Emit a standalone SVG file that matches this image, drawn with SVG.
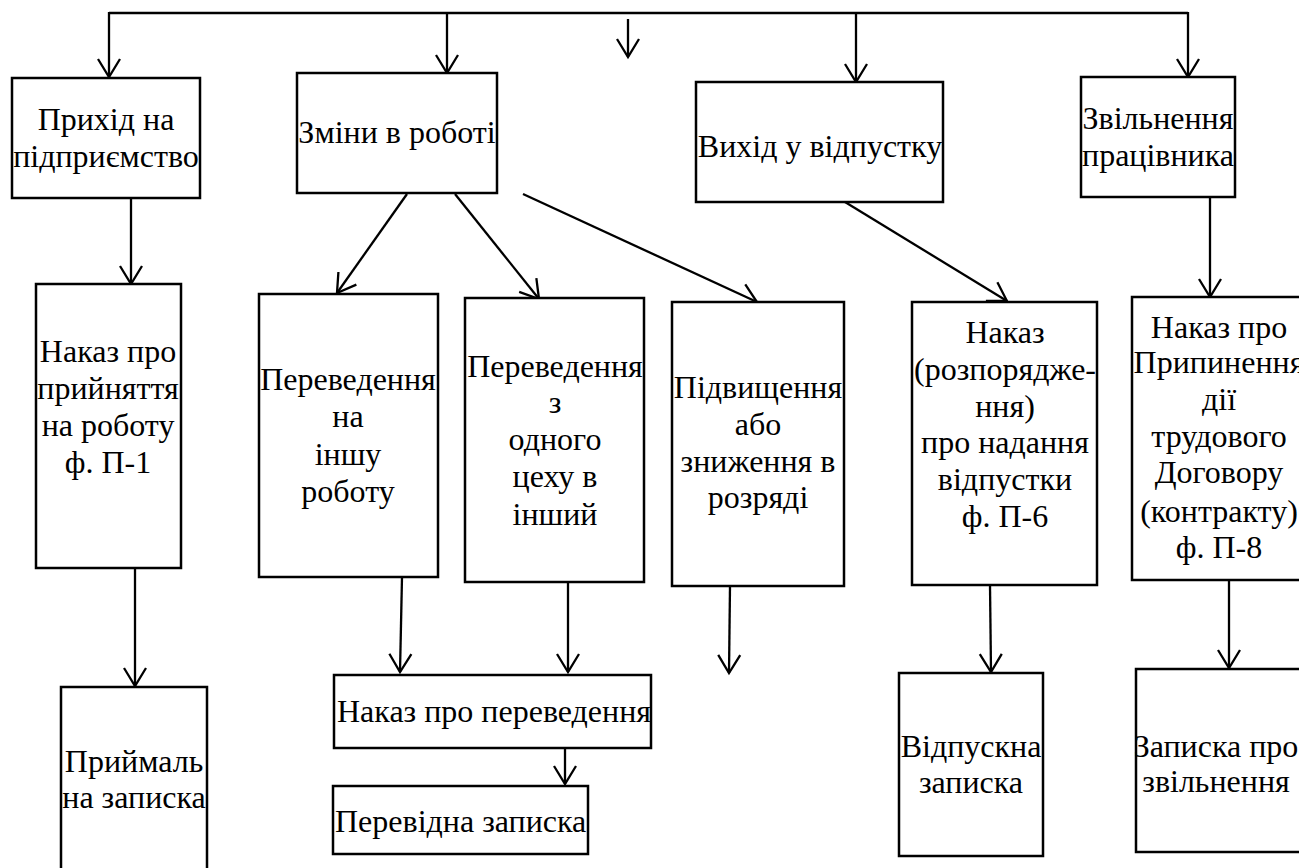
<svg xmlns="http://www.w3.org/2000/svg" width="1299" height="868" viewBox="0 0 1299 868">
<style>
.box{fill:#fff;stroke:#000;stroke-width:2.5}
.t{font-family:"Liberation Serif","Times New Roman",serif;font-size:32px;fill:#000;text-anchor:middle}
.ts{font-family:"Liberation Serif","Times New Roman",serif;font-size:32px;fill:#000;text-anchor:start}
.c{fill:none;stroke:#000;stroke-width:2.3}
</style>
<defs>
<marker id="ah" markerUnits="userSpaceOnUse" markerWidth="24" markerHeight="26" viewBox="-20 -13 22 26" refX="0" refY="0" orient="auto">
<path d="M-18,-11 L0,0 L-18,11" fill="none" stroke="#000" stroke-width="2.3"/>
</marker>
</defs>
<rect width="1299" height="868" fill="#fff"/>
<g id="connectors">
<line class="c" x1="109" y1="13" x2="1188" y2="13"/>
<line class="c" x1="109" y1="12" x2="109" y2="77" marker-end="url(#ah)"/>
<line class="c" x1="447" y1="12" x2="447" y2="73" marker-end="url(#ah)"/>
<line class="c" x1="856" y1="12" x2="856" y2="82" marker-end="url(#ah)"/>
<line class="c" x1="1188" y1="12" x2="1188" y2="77" marker-end="url(#ah)"/>
<line class="c" x1="628" y1="19" x2="628" y2="57" marker-end="url(#ah)"/>
<line class="c" x1="131" y1="198" x2="131" y2="284" marker-end="url(#ah)"/>
<line class="c" x1="135" y1="568" x2="135" y2="686" marker-end="url(#ah)"/>
<line class="c" x1="407" y1="194" x2="337" y2="293" marker-end="url(#ah)"/>
<line class="c" x1="455" y1="194" x2="539" y2="299" marker-end="url(#ah)"/>
<line class="c" x1="523" y1="194" x2="757" y2="302" marker-end="url(#ah)"/>
<line class="c" x1="402" y1="577" x2="400" y2="672" marker-end="url(#ah)"/>
<line class="c" x1="568" y1="582" x2="568" y2="672" marker-end="url(#ah)"/>
<line class="c" x1="730" y1="586" x2="729" y2="673" marker-end="url(#ah)"/>
<line class="c" x1="565" y1="748" x2="565" y2="784" marker-end="url(#ah)"/>
<line class="c" x1="845" y1="202" x2="1007" y2="301" marker-end="url(#ah)"/>
<line class="c" x1="990" y1="585" x2="991" y2="672" marker-end="url(#ah)"/>
<line class="c" x1="1210" y1="197" x2="1210" y2="297" marker-end="url(#ah)"/>
<line class="c" x1="1229" y1="580" x2="1229" y2="668" marker-end="url(#ah)"/>
</g>
<g id="n-prykhid">
<rect class="box" x="12" y="78" width="188" height="120"/>
<text class="t" x="106" y="130">Прихід на</text>
<text class="t" x="106" y="167">підприємство</text>
</g>
<g id="n-zminy">
<rect class="box" x="297" y="73" width="200" height="120"/>
<text class="t" x="397" y="143">Зміни в роботі</text>
</g>
<g id="n-vykhid">
<rect class="box" x="696" y="82" width="247" height="120"/>
<text class="t" x="820" y="157">Вихід у відпустку</text>
</g>
<g id="n-zvilnennia">
<rect class="box" x="1081" y="77" width="154" height="120"/>
<text class="t" x="1158" y="129">Звільнення</text>
<text class="t" x="1158" y="166">працівника</text>
</g>
<g id="n-nakaz-p1">
<rect class="box" x="36" y="284" width="145" height="284"/>
<text class="t" x="108" y="362">Наказ про</text>
<text class="t" x="108" y="399">прийняття</text>
<text class="t" x="108" y="436">на роботу</text>
<text class="t" x="108" y="473">ф. П-1</text>
</g>
<g id="n-perevedennia-na">
<rect class="box" x="259" y="294" width="179" height="283"/>
<text class="t" x="348" y="390">Переведення</text>
<text class="t" x="348" y="427">на</text>
<text class="t" x="348" y="465">іншу</text>
<text class="t" x="348" y="502">роботу</text>
</g>
<g id="n-perevedennia-z">
<rect class="box" x="465" y="298" width="179" height="284"/>
<text class="t" x="555" y="377">Переведення</text>
<text class="t" x="555" y="413">з</text>
<text class="t" x="555" y="450">одного</text>
<text class="t" x="555" y="487">цеху в</text>
<text class="t" x="555" y="525">інший</text>
</g>
<g id="n-pidvyshchennia">
<rect class="box" x="672" y="302" width="172" height="284"/>
<text class="t" x="758" y="398">Підвищення</text>
<text class="t" x="758" y="435">або</text>
<text class="t" x="758" y="472">зниження в</text>
<text class="t" x="758" y="508">розряді</text>
</g>
<g id="n-nakaz-p6">
<rect class="box" x="912" y="302" width="185" height="283"/>
<text class="t" x="1005" y="343">Наказ</text>
<text class="t" x="1005" y="380">(розпорядже-</text>
<text class="t" x="1005" y="417">ння)</text>
<text class="t" x="1005" y="453">про надання</text>
<text class="t" x="1005" y="490">відпустки</text>
<text class="t" x="1005" y="527">ф. П-6</text>
</g>
<g id="n-nakaz-p8">
<rect class="box" x="1132" y="297" width="180" height="283"/>
<text class="t" x="1219" y="338">Наказ про</text>
<text class="t" x="1219" y="373">Припинення</text>
<text class="t" x="1219" y="410">дії</text>
<text class="t" x="1219" y="447">трудового</text>
<text class="t" x="1219" y="483">Договору</text>
<text class="t" x="1219" y="522">(контракту)</text>
<text class="t" x="1219" y="558">ф. П-8</text>
</g>
<g id="n-pryimalna">
<rect class="box" x="61" y="687" width="146" height="200"/>
<text class="t" x="134" y="772">Приймаль</text>
<text class="t" x="134" y="808">на записка</text>
</g>
<g id="n-nakaz-perevedennia">
<rect class="box" x="334" y="675" width="317" height="73"/>
<text class="ts" x="337" y="722">Наказ про переведення</text>
</g>
<g id="n-perevidna">
<rect class="box" x="333" y="786" width="255" height="68"/>
<text class="ts" x="335" y="832">Перевідна записка</text>
</g>
<g id="n-vidpuskna">
<rect class="box" x="899" y="673" width="144" height="183"/>
<text class="t" x="971" y="757">Відпускна</text>
<text class="t" x="971" y="793">записка</text>
</g>
<g id="n-zapyska-zvilnennia">
<rect class="box" x="1136" y="669" width="180" height="183"/>
<text class="t" x="1216" y="757">Записка про</text>
<text class="t" x="1216" y="792">звільнення</text>
</g>
</svg>
